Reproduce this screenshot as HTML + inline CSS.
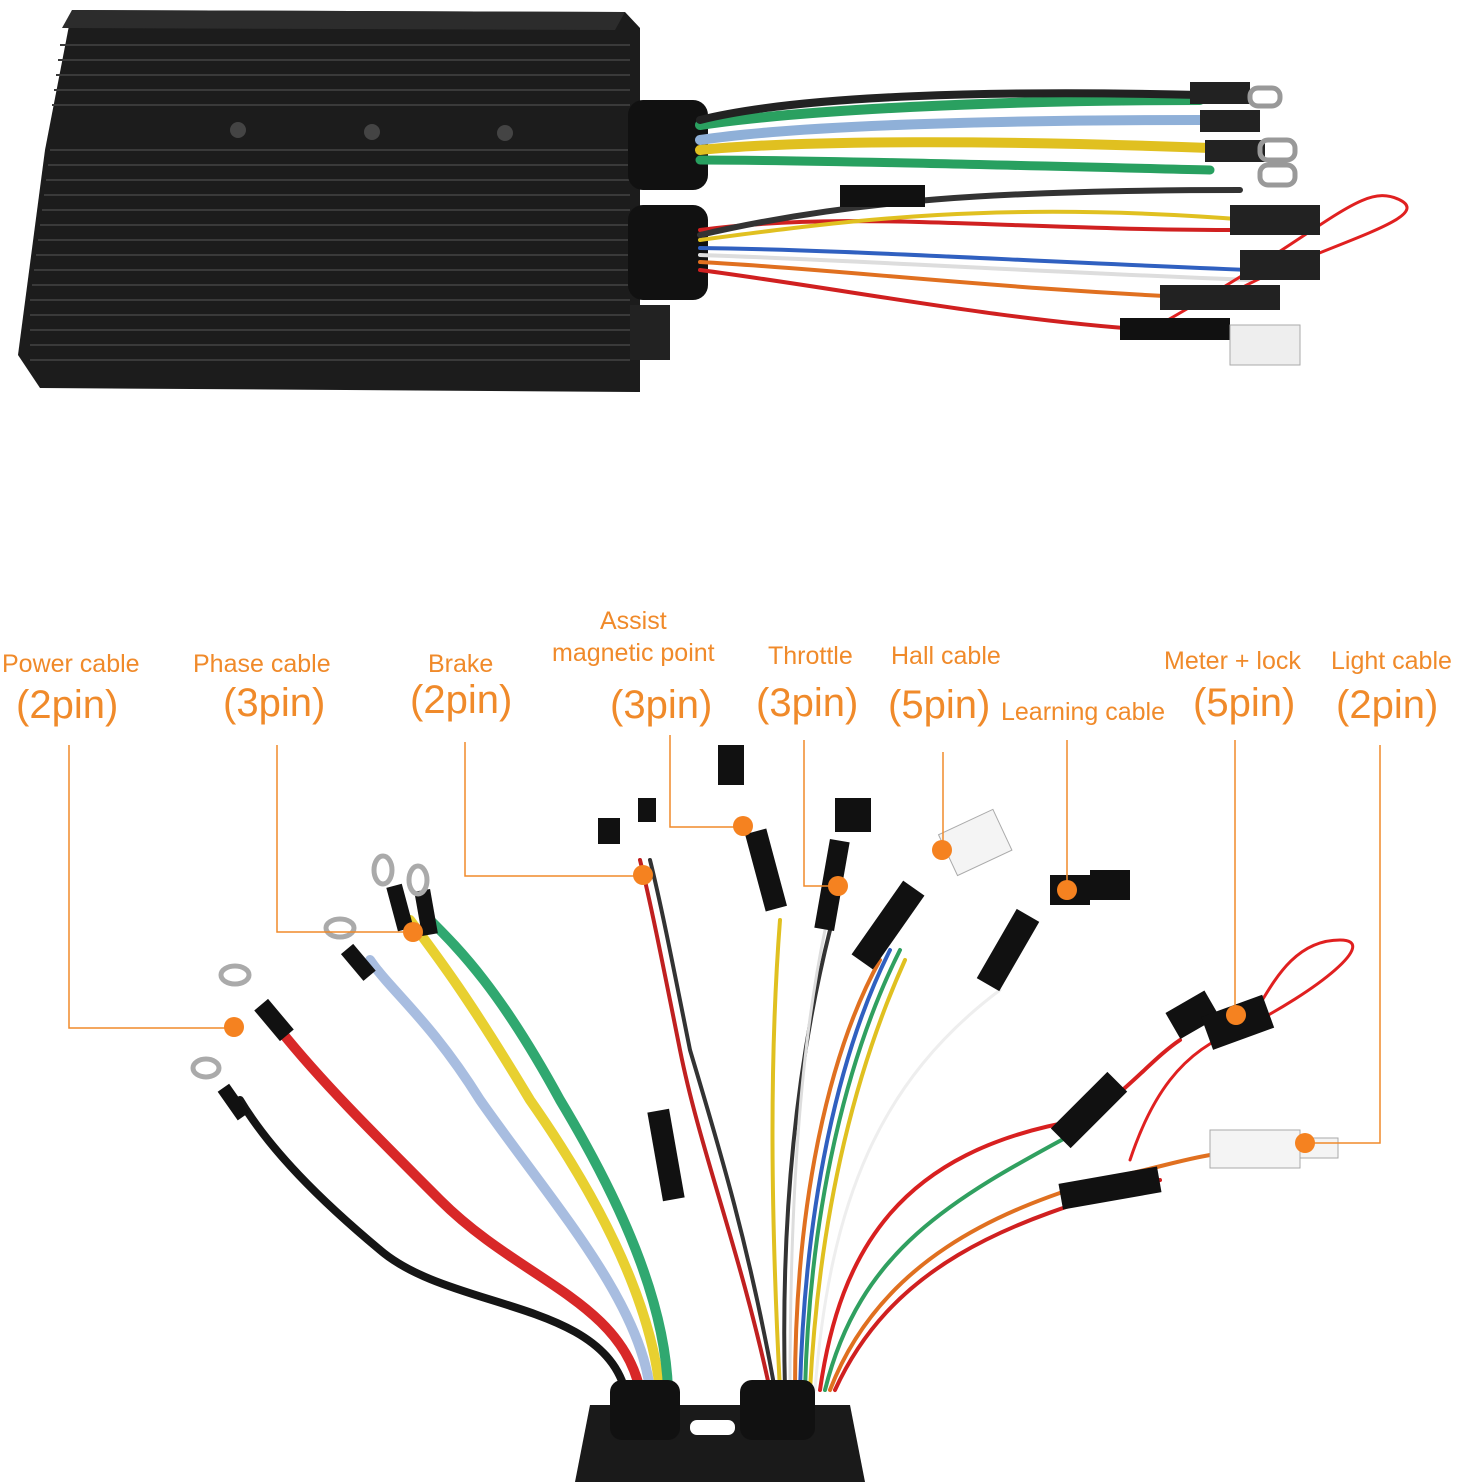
<!DOCTYPE html>
<html><head><meta charset="utf-8"><style>
html,body{margin:0;padding:0;background:#fff;}
svg{display:block;}
.l{font-family:"Liberation Sans Narrow","Liberation Sans",sans-serif;fill:#f08a2a;}
</style></head><body>
<svg width="1462" height="1482" viewBox="0 0 1462 1482" xmlns="http://www.w3.org/2000/svg">
<rect width="1462" height="1482" fill="#fff"/>
<!-- TOP CONTROLLER -->
<g>
<polygon points="72,10 625,12 640,28 640,392 40,388 18,355 45,150" fill="#1c1c1c"/>
<polygon points="72,10 625,12 615,30 62,28" fill="#2c2c2c"/>
<g stroke="#3a3a3a" stroke-width="2">
<line x1="60" y1="45" x2="630" y2="45"/><line x1="58" y1="60" x2="630" y2="60"/>
<line x1="56" y1="75" x2="630" y2="75"/><line x1="54" y1="90" x2="630" y2="90"/>
<line x1="52" y1="105" x2="630" y2="105"/><line x1="50" y1="150" x2="630" y2="150"/>
<line x1="48" y1="165" x2="630" y2="165"/><line x1="46" y1="180" x2="630" y2="180"/>
<line x1="44" y1="195" x2="630" y2="195"/><line x1="42" y1="210" x2="630" y2="210"/>
<line x1="40" y1="225" x2="630" y2="225"/><line x1="38" y1="240" x2="630" y2="240"/>
<line x1="36" y1="255" x2="630" y2="255"/><line x1="34" y1="270" x2="630" y2="270"/>
<line x1="32" y1="285" x2="630" y2="285"/><line x1="30" y1="300" x2="630" y2="300"/>
<line x1="30" y1="315" x2="630" y2="315"/><line x1="30" y1="330" x2="630" y2="330"/>
<line x1="30" y1="345" x2="630" y2="345"/><line x1="30" y1="360" x2="630" y2="360"/>
</g>
<circle cx="238" cy="130" r="8" fill="#444"/><circle cx="372" cy="132" r="8" fill="#444"/><circle cx="505" cy="133" r="8" fill="#444"/>
<rect x="628" y="100" width="80" height="90" rx="15" fill="#111"/>
<rect x="628" y="205" width="80" height="95" rx="15" fill="#111"/>
<rect x="630" y="305" width="40" height="55" fill="#222"/>
<g fill="none" stroke-linecap="round">
<path d="M700,125 C800,110 1000,100 1200,100" stroke="#2aa060" stroke-width="10"/>
<path d="M700,140 C800,125 1000,120 1200,120" stroke="#8fb0d8" stroke-width="10"/>
<path d="M700,150 C800,140 1000,140 1210,148" stroke="#e0c020" stroke-width="10"/>
<path d="M700,160 C800,160 1000,165 1210,170" stroke="#28a060" stroke-width="9"/>
<path d="M700,120 C800,95 1000,90 1200,95" stroke="#222" stroke-width="8"/>
<path d="M700,230 C850,210 1000,230 1240,230" stroke="#d02020" stroke-width="4"/>
<path d="M700,240 C850,220 1000,200 1250,220" stroke="#e0c020" stroke-width="4"/>
<path d="M700,248 C850,250 1000,260 1250,270" stroke="#3060c0" stroke-width="4"/>
<path d="M700,255 C850,260 1000,270 1250,280" stroke="#ddd" stroke-width="4"/>
<path d="M700,262 C850,270 1000,290 1250,300" stroke="#e07020" stroke-width="4"/>
<path d="M700,270 C850,290 1000,320 1150,330" stroke="#d02020" stroke-width="4"/>
<path d="M700,235 C850,200 1000,190 1240,190" stroke="#333" stroke-width="6"/>
<path d="M1220,300 C1300,250 1440,220 1400,200 C1360,180 1330,230 1150,330" stroke="#e02020" stroke-width="3"/>
</g>
<rect x="1190" y="82" width="60" height="22" fill="#222"/><rect x="1200" y="110" width="60" height="22" fill="#222"/>
<rect x="1205" y="140" width="60" height="22" fill="#222"/>
<rect x="1250" y="88" width="30" height="18" rx="8" fill="none" stroke="#999" stroke-width="5"/>
<rect x="1260" y="140" width="35" height="20" rx="8" fill="none" stroke="#999" stroke-width="5"/>
<rect x="1260" y="165" width="35" height="20" rx="8" fill="none" stroke="#999" stroke-width="5"/>
<rect x="840" y="185" width="85" height="22" fill="#111"/>
<rect x="1230" y="205" width="90" height="30" fill="#222"/><rect x="1240" y="250" width="80" height="30" fill="#222"/>
<rect x="1160" y="285" width="120" height="25" fill="#222"/><rect x="1120" y="318" width="110" height="22" fill="#111"/>
<rect x="1230" y="325" width="70" height="40" fill="#eee" stroke="#aaa"/>
</g>

<!-- LABELS -->
<g class="l">
<text x="2" y="672" font-size="25">Power cable</text><text x="16" y="718" font-size="40">(2pin)</text>
<text x="193" y="672" font-size="25">Phase cable</text><text x="223" y="716" font-size="40">(3pin)</text>
<text x="428" y="672" font-size="25">Brake</text><text x="410" y="713" font-size="40">(2pin)</text>
<text x="600" y="629" font-size="25">Assist</text><text x="552" y="661" font-size="25">magnetic point</text><text x="610" y="718" font-size="40">(3pin)</text>
<text x="768" y="664" font-size="25">Throttle</text><text x="756" y="716" font-size="40">(3pin)</text>
<text x="891" y="664" font-size="25">Hall cable</text><text x="888" y="718" font-size="40">(5pin)</text>
<text x="1001" y="720" font-size="25">Learning cable</text>
<text x="1164" y="669" font-size="25">Meter + lock</text><text x="1193" y="716" font-size="40">(5pin)</text>
<text x="1331" y="669" font-size="25">Light cable</text><text x="1336" y="718" font-size="40">(2pin)</text>
</g>

<!-- WIRES bottom -->
<g fill="none" stroke-linecap="round">
<path d="M625,1390 C600,1300 450,1310 380,1250 C320,1200 270,1150 240,1100" stroke="#151515" stroke-width="8"/>
<path d="M640,1390 C620,1300 520,1280 440,1200 C370,1130 320,1080 280,1030" stroke="#d82828" stroke-width="10"/>
<path d="M650,1390 C640,1300 550,1200 480,1100 C430,1020 390,990 370,960" stroke="#a8bde0" stroke-width="10"/>
<path d="M660,1390 C650,1300 600,1200 530,1100 C470,1000 440,960 410,920" stroke="#e8d030" stroke-width="10"/>
<path d="M668,1390 C665,1300 620,1200 560,1100 C500,990 460,950 430,920" stroke="#30a870" stroke-width="10"/>
<path d="M770,1390 C740,1250 700,1150 680,1050 C660,950 650,900 640,860" stroke="#c02020" stroke-width="4"/>
<path d="M775,1390 C750,1250 720,1150 690,1050 C670,950 660,900 650,860" stroke="#333" stroke-width="4"/>
<path d="M780,1390 C770,1200 770,1050 780,920" stroke="#e0c020" stroke-width="4"/>
<path d="M785,1390 C780,1200 800,1050 830,930" stroke="#333" stroke-width="4"/>
<path d="M790,1390 C790,1200 800,1050 825,930" stroke="#ddd" stroke-width="3"/>
<path d="M795,1390 C795,1200 830,1050 880,960" stroke="#e07020" stroke-width="4"/>
<path d="M800,1390 C805,1200 840,1050 890,950" stroke="#3060c0" stroke-width="4"/>
<path d="M805,1390 C810,1200 850,1050 900,950" stroke="#30a060" stroke-width="4"/>
<path d="M810,1390 C820,1200 860,1060 905,960" stroke="#e0c020" stroke-width="4"/>
<path d="M815,1390 C830,1200 880,1080 1000,990" stroke="#eee" stroke-width="3"/>
<path d="M820,1390 C840,1250 900,1150 1080,1120 C1120,1100 1150,1060 1180,1040" stroke="#d82020" stroke-width="4"/>
<path d="M825,1390 C860,1250 950,1200 1080,1130" stroke="#30a060" stroke-width="4"/>
<path d="M830,1390 C880,1260 1000,1210 1100,1180 C1150,1170 1180,1160 1210,1155" stroke="#e07020" stroke-width="4"/>
<path d="M835,1390 C890,1270 1000,1220 1160,1180" stroke="#d02020" stroke-width="4"/>
<path d="M1130,1160 C1150,1100 1180,1050 1240,1030 C1320,990 1380,940 1340,940 C1290,940 1270,990 1250,1020" stroke="#e02020" stroke-width="3"/>
</g>
<!-- heat shrink & connectors -->
<g fill="#111">
<rect x="265" y="1000" width="18" height="40" transform="rotate(-40 274 1020)"/>
<rect x="225" y="1085" width="14" height="35" transform="rotate(-35 232 1100)"/>
<rect x="350" y="945" width="16" height="35" transform="rotate(-40 358 962)"/>
<rect x="392" y="885" width="16" height="45" transform="rotate(-15 400 908)"/>
<rect x="418" y="890" width="16" height="45" transform="rotate(-10 426 912)"/>
<rect x="655" y="1110" width="22" height="90" transform="rotate(-10 666 1155)"/>
<rect x="755" y="830" width="22" height="80" transform="rotate(-15 766 870)"/>
<rect x="822" y="840" width="20" height="90" transform="rotate(10 832 885)"/>
<rect x="875" y="880" width="26" height="90" transform="rotate(35 888 925)"/>
<rect x="995" y="910" width="26" height="80" transform="rotate(30 1008 950)"/>
<rect x="1075" y="1070" width="28" height="80" transform="rotate(45 1089 1110)"/>
<rect x="1060" y="1175" width="100" height="26" transform="rotate(-10 1110 1188)"/>
<rect x="598" y="818" width="22" height="26"/><rect x="638" y="798" width="18" height="24"/>
<rect x="718" y="745" width="26" height="40"/><rect x="835" y="798" width="36" height="34"/>
<rect x="1050" y="875" width="40" height="30"/><rect x="1090" y="870" width="40" height="30"/>
<rect x="1170" y="1000" width="45" height="30" transform="rotate(-30 1192 1015)"/>
<rect x="1205" y="1005" width="65" height="35" transform="rotate(-20 1237 1022)"/>
</g>
<rect x="945" y="820" width="60" height="45" fill="#f4f4f4" stroke="#aaa" transform="rotate(-25 975 842)"/>
<rect x="1210" y="1130" width="90" height="38" fill="#f4f4f4" stroke="#aaa"/>
<rect x="1300" y="1138" width="38" height="20" fill="#f4f4f4" stroke="#aaa"/>
<g fill="none" stroke="#aaa" stroke-width="5">
<ellipse cx="235" cy="975" rx="14" ry="9"/><ellipse cx="206" cy="1068" rx="13" ry="9"/>
<ellipse cx="340" cy="928" rx="14" ry="9"/><ellipse cx="383" cy="870" rx="9" ry="14"/>
<ellipse cx="418" cy="880" rx="9" ry="14"/>
</g>
<!-- bottom housing -->
<path d="M575,1482 L590,1405 L850,1405 L865,1482 Z" fill="#1a1a1a"/>
<rect x="610" y="1380" width="70" height="60" rx="12" fill="#111"/>
<rect x="740" y="1380" width="75" height="60" rx="12" fill="#111"/>
<rect x="690" y="1420" width="45" height="15" rx="7" fill="#fff"/>

<!-- LEADER LINES -->
<g fill="none" stroke="#f08a2a" stroke-width="1.5">
<polyline points="69,745 69,1028 233,1028"/>
<polyline points="277,745 277,932 413,932"/>
<polyline points="465,742 465,876 643,876"/>
<polyline points="670,735 670,827 743,827"/>
<polyline points="804,740 804,886 838,886"/>
<polyline points="943,752 943,850"/>
<polyline points="1067,740 1067,890"/>
<polyline points="1235,740 1235,1015"/>
<polyline points="1380,745 1380,1143 1305,1143"/>
</g>
<g fill="#f58220">
<circle cx="234" cy="1027" r="10"/><circle cx="413" cy="932" r="10"/><circle cx="643" cy="875" r="10"/>
<circle cx="743" cy="826" r="10"/><circle cx="838" cy="886" r="10"/><circle cx="942" cy="850" r="10"/>
<circle cx="1067" cy="890" r="10"/><circle cx="1236" cy="1015" r="10"/><circle cx="1305" cy="1143" r="10"/>
</g>
</svg>
</body></html>
